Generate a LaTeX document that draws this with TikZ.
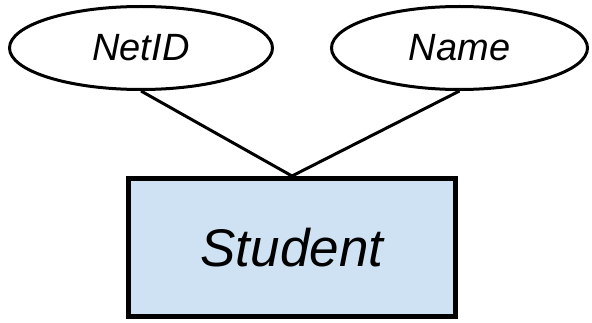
\documentclass[tikz,border=0pt]{standalone}
\usepackage{fontspec}
\setmainfont{Liberation Sans}
\usetikzlibrary{shapes.geometric}
\definecolor{entfill}{HTML}{CFE2F3}
\begin{document}
\begin{tikzpicture}[x=1pt,y=1pt,
  attr/.style={ellipse,draw=black,line width=3pt,inner sep=0pt,font=\fontsize{38}{38}\selectfont\itshape},
  entity/.style={rectangle,draw=black,fill=entfill,line width=5pt,inner sep=0pt,minimum width=327pt,minimum height=138pt,font=\fontsize{53}{53}\selectfont\itshape},
  link/.style={line width=3pt}]
\useasboundingbox (0,0) rectangle (592,322);
\node[attr,minimum width=263pt,minimum height=83pt] (netid) at (141,274) {NetID};
\node[attr,minimum width=256pt,minimum height=83pt] (name) at (459.5,274) {Name};
\node[entity] (student) at (292,74.5) {Student};
\draw[link] (netid.south) -- (student.north);
\draw[link] (name.south) -- (student.north);
\end{tikzpicture}
\end{document}
